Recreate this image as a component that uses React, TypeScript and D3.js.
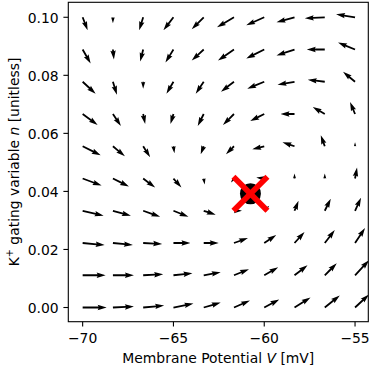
import React from 'react';
import * as d3 from 'd3';

// Grid of the phase plane (membrane potential in mV, gating variable n)
const membraneV = [-70, -68.333, -66.667, -65, -63.333, -61.667, -60, -58.333, -56.667, -55];
const gatingN = [0, 0.01111, 0.02222, 0.03333, 0.04444, 0.05556, 0.06667, 0.07778, 0.08889, 0.1];

// Vector field components (arrow units), one row per value of n from bottom to top
const fieldU = [
  [24, 21, 21, 20, 17, 16, 15, 16, 15, 14],
  [23, 21, 20, 19, 17, 15, 14, 13, 12, 14],
  [22, 20, 19, 17, 15, 14, 12, 10, 10, 10],
  [21, 18, 17, 15, 12, 8, 5, 4, 6, 6],
  [19, 16, 12, 8, 1, -3, -8, 0, 0, 2],
  [18, 12, 7, 1, -3, -8, -12, -12, -4, 0],
  [15, 8, 2, -3, -6, -11, -14, -14, -12, -5],
  [13, 4, 0, -7, -8, -13, -17, -17, -17, -12],
  [8, 1, -3, -8, -12, -16, -18, -18, -18, -17],
  [5, 0, -4, -10, -12, -17, -18, -18, -20, -19],
];
const fieldV = [
  [0, 1, 2, 4, 5, 7, 8, 10, 12, 13],
  [0, 0, 1, 2, 3, 6, 8, 10, 12, 15],
  [-2, -2, -1, 0, 0, 5, 8, 11, 13, 15],
  [-5, -5, -6, -6, -4, 0, 5, 10, 12, 13],
  [-7, -8, -9, -9, -6, -4, 1, 5, 5, 11],
  [-9, -10, -11, -7, -8, -8, -3, 4, 11, 4],
  [-11, -12, -10, -10, -12, -11, -7, 0, 7, 12],
  [-12, -13, -7, -12, -12, -10, -7, -3, 2, 10],
  [-14, -10, -12, -13, -11, -11, -9, -6, 0, 7],
  [-13, -6, -13, -13, -12, -10, -8, -5, -1, 3],
];

const fixedPoint = { V: -60.76, n: 0.0392 };

const xTicks = [-70, -65, -60, -55];
const yTicks = [0, 0.02, 0.04, 0.06, 0.08, 0.1];

const W = 371;
const H = 368;
const plot = { left: 68.3, right: 368.3, top: 2.3, bottom: 321.7 };
const FONT = 'DejaVu Sans, sans-serif';
const FS = 13.9;
const pxPerUnit = 1; // arrow length in pixels per field unit
const shaftW = 1.8;

const x = d3.scaleLinear().domain([-70.79, -54.27]).range([plot.left, plot.right]);
const y = d3.scaleLinear().domain([-0.00489, 0.10516]).range([plot.bottom, plot.top]);

// Quiver-style arrow polygon (tail at grid point), lengths in shaft-width units
function arrowPath(x0: number, y0: number, dx: number, dy: number, w: number): string {
  const L = Math.hypot(dx, dy) / w;
  if (L < 0.2) return '';
  const minsh = 5;
  let pts: number[][];
  if (L >= minsh) {
    pts = [[0, 0.5], [L - 4.5, 0.5], [L - 5, 1.5], [L, 0], [L - 5, -1.5], [L - 4.5, -0.5], [0, -0.5]];
  } else {
    const s = L / minsh;
    pts = [[0, 0.5], [0.5, 0.5], [0, 1.5], [5, 0], [0, -1.5], [0.5, -0.5], [0, -0.5]].map(([a, b]) => [a * s, b * s]);
  }
  const a = Math.atan2(dy, dx);
  const c = Math.cos(a);
  const sn = Math.sin(a);
  const line = d3.line();
  return line(pts.map(([px, py]) => [x0 + (px * c - py * sn) * w, y0 + (px * sn + py * c) * w]) as [number, number][]) + 'Z';
}

export default function App() {
  const arrows: { key: string; d: string }[] = [];
  gatingN.forEach((nv, j) => {
    membraneV.forEach((vv, i) => {
      const d = arrowPath(x(vv), y(nv), fieldU[j][i] * pxPerUnit, -fieldV[j][i] * pxPerUnit, shaftW);
      if (d) arrows.push({ key: `${i}-${j}`, d });
    });
  });

  const fx = x(fixedPoint.V);
  const fy = y(fixedPoint.n);
  const xs = 17;

  return (
    <svg width={W} height={H} style={{ position: 'absolute', left: 0, top: 0, background: '#fff' }} fontFamily={FONT}>
      <defs>
        <clipPath id="plot-area">
          <rect x={plot.left} y={plot.top} width={plot.right - plot.left} height={plot.bottom - plot.top} />
        </clipPath>
      </defs>
      <g clipPath="url(#plot-area)">
        {arrows.map((a) => (
          <path key={a.key} d={a.d} fill="#000" />
        ))}
        <circle cx={fx} cy={fy} r={10.5} fill="#000" />
        <g stroke="#ff0000" strokeWidth={5.6}>
          <line x1={fx - xs} y1={fy - xs} x2={fx + xs} y2={fy + xs} />
          <line x1={fx - xs} y1={fy + xs} x2={fx + xs} y2={fy - xs} />
        </g>
      </g>
      <rect x={plot.left} y={plot.top} width={plot.right - plot.left} height={plot.bottom - plot.top} fill="none" stroke="#000" strokeWidth={1.1} />
      {xTicks.map((t) => (
        <g key={`x${t}`}>
          <line x1={x(t)} x2={x(t)} y1={plot.bottom} y2={plot.bottom + 4.9} stroke="#000" strokeWidth={1.1} />
          <text x={x(t)} y={343} fontSize={FS} textAnchor="middle" fill="#000">{d3.format('d')(t).replace('-', '\u2212')}</text>
        </g>
      ))}
      {yTicks.map((t) => (
        <g key={`y${t}`}>
          <line x1={plot.left - 4.9} x2={plot.left} y1={y(t)} y2={y(t)} stroke="#000" strokeWidth={1.1} />
          <text x={58.6} y={y(t) + 5.6} fontSize={FS} textAnchor="end" fill="#000">{d3.format('.2f')(t)}</text>
        </g>
      ))}
      <text x={(plot.left + plot.right) / 2} y={362.7} fontSize={FS} textAnchor="middle" fill="#000">
        Membrane Potential <tspan fontStyle="italic">V</tspan> [mV]
      </text>
      <text transform={`translate(18.8,${(plot.top + plot.bottom) / 2}) rotate(-90)`} fontSize={FS} textAnchor="middle" fill="#000">
        K<tspan fontSize={FS * 0.7} dy={-5.5}>+</tspan><tspan dy={5.5}> gating variable </tspan><tspan fontStyle="italic">n</tspan> [unitless]
      </text>
    </svg>
  );
}
